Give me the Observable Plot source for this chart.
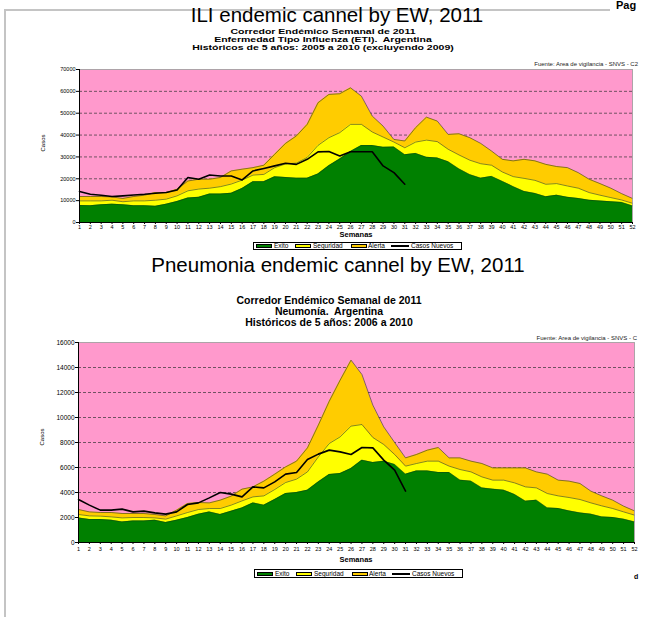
<!DOCTYPE html>
<html><head><meta charset="utf-8">
<script src="https://cdn.jsdelivr.net/npm/d3@7"></script>
<script src="https://cdn.jsdelivr.net/npm/@observablehq/plot@0.6"></script>
<style>
body{margin:0;background:#fff;}
#page{position:relative;width:647px;height:617px;overflow:hidden;font-family:"Liberation Sans",Arial,sans-serif;color:#000;background:#fff;}
.abs{position:absolute;white-space:nowrap;line-height:1;}
.ctr{transform:translate(-50%,-50%);}
.title{font-size:20.5px;}
.sub1{font-size:10.5px;font-weight:bold;transform:translate(-50%,-50%) scaleY(0.72);}
.sub2{font-size:10.5px;font-weight:bold;}
.fuente{font-size:6px;transform:translate(-100%,-50%);color:#222;}
.casos{font-size:6px;transform:translate(-50%,-50%) rotate(-90deg);}
.sem{font-size:7.5px;font-weight:bold;}
.legend{position:absolute;border:1px solid #000;background:#fff;box-sizing:border-box;}
.legend span{position:absolute;top:50%;transform:translateY(-50%);font-size:6.5px;white-space:nowrap;line-height:1;}
.legend i{position:absolute;top:50%;transform:translateY(-50%);height:4px;border:1px solid #000;box-sizing:border-box;}
.chart{position:absolute;left:0;}
</style></head><body><div id="page">
<div class="abs" style="left:4px;top:9px;width:2px;height:608px;background:#c4c4c4"></div>
<div class="abs" style="left:4px;top:9px;width:606px;height:2px;background:#c4c4c4"></div>
<div class="abs" style="left:616px;top:0px;font-size:11px;font-weight:bold;">Pag</div>

<div class="abs ctr title" style="left:337px;top:15px;">ILI endemic cannel by EW, 2011</div>
<div class="abs sub1" style="left:323px;top:30.5px;">Corredor Endémico Semanal de 2011</div>
<div class="abs sub1" style="left:323px;top:38.5px;">Enfermedad Tipo Influenza (ETI).&nbsp; Argentina</div>
<div class="abs sub1" style="left:323px;top:46.5px;">Históricos de 5 años: 2005 a 2010 (excluyendo 2009)</div>
<div class="abs fuente" style="left:638px;top:64px;">Fuente: Area de vigilancia - SNVS - C2</div>
<div class="abs casos" style="left:43px;top:143px;">Casos</div>
<div id="c1" class="chart" style="top:66px;"></div>
<div class="abs ctr sem" style="left:356px;top:235px;">Semanas</div>
<div id="lg1"></div>

<div class="abs ctr title" style="left:338px;top:265px;">Pneumonia endemic cannel by EW, 2011</div>
<div class="abs ctr sub2" style="left:329px;top:300px;">Corredor Endémico Semanal de 2011</div>
<div class="abs ctr sub2" style="left:329px;top:311px;">Neumonía.&nbsp; Argentina</div>
<div class="abs ctr sub2" style="left:329px;top:322px;">Históricos de 5 años: 2006 a 2010</div>
<div class="abs fuente" style="left:637px;top:338px;">Fuente: Area de vigilancia - SNVS - C</div>
<div class="abs casos" style="left:42px;top:437px;">Casos</div>
<div id="c2" class="chart" style="top:338px;"></div>
<div class="abs ctr sem" style="left:356px;top:560px;">Semanas</div>
<div id="lg2"></div>
<div class="abs" style="left:634px;top:573px;font-size:7px;font-weight:bold;">d</div>
</div>
<script>
// ---------- data ----------
const weeks = [1,2,3,4,5,6,7,8,9,10,11,12,13,14,15,16,17,18,19,20,21,22,23,24,25,26,
  27,28,29,30,31,32,33,34,35,36,37,38,39,40,41,42,43,44,45,46,47,48,49,50,51,52];
const legendLabels = ["Exito","Seguridad","Alerta","Casos Nuevos"];

// ILI (ETI) 2011
const iliExito = [7800,7700,8100,8400,8100,7700,7700,7400,8400,9600,11200,11500,13000,13000,13400,15600,
  18700,18700,20900,20600,20300,20300,22200,26000,29000,32500,35200,35200,34400,34500,31000,31600,29800,
  29500,27800,24500,21900,20300,21100,18800,16400,14200,13300,11800,12500,11500,11000,10200,9800,9500,9200,7600];
const iliSeguridad = [9900,9900,9900,10200,9500,9900,9900,10200,10700,12200,14500,15300,15700,16400,17600,
  19400,21700,22000,25100,26800,27200,29800,35300,38800,41100,44900,44900,41400,39100,36800,34200,36800,
  37700,37000,33500,30900,28500,26900,26200,23100,21000,20200,19300,17500,17800,16700,15700,13700,12500,
  11400,10300,8800];
const iliAlerta = [11900,11900,11900,11700,11000,11900,12500,13700,13700,15200,19000,19800,19800,20600,23600,
  24400,25100,26200,31200,36200,39600,44900,54800,58600,58900,61600,57800,48700,44100,38000,37300,43400,
  48200,46400,40300,40600,38800,36200,32700,28900,28200,28900,28200,26600,25600,25100,22800,19800,17800,
  15700,13200,11000];
const iliCasos = [14200,12900,12500,11900,12200,12600,12900,13400,13700,14900,20600,19800,21700,21300,21300,
  19500,23600,24700,25900,27100,26600,28900,32300,32500,30400,32400,32400,32400,25900,22800,17500];
const iliTicks = [0,10000,20000,30000,40000,50000,60000,70000];
const iliGrid = [10000,20000,30000,40000,50000,60000];

// Neumonía 2011
const neuExito = [1970,1840,1840,1790,1650,1730,1730,1790,1600,1790,2000,2270,2450,2240,2500,2770,3170,2990,
  3440,3920,4000,4190,4850,5440,5520,5920,6590,6400,6510,6240,5470,5730,5730,5600,5600,4990,4910,4370,4270,
  4190,3840,3310,3390,2770,2720,2530,2370,2270,2050,2000,1870,1650];
const neuSeguridad = [2240,2130,2110,2050,1970,2000,2000,1970,1870,2130,2400,2640,2720,2720,2990,3330,3650,
  3730,4240,4800,5070,5650,6850,7920,8450,9310,9440,8400,7840,7040,6110,6320,6510,6510,6110,5840,5650,5250,
  4990,4990,4770,4450,4370,3920,3730,3600,3440,3170,2930,2720,2450,2190];
const neuAlerta = [2640,2450,2400,2400,2320,2320,2320,2240,2130,2590,3120,3200,3170,3390,3710,4270,4450,4910,
  5470,6050,6510,7570,9390,11300,12990,14590,13440,10990,9250,8000,6770,7040,7390,7600,6770,6770,6510,6320,
  5970,5970,5970,5970,5650,5470,4990,4910,4720,4110,3730,3390,2910,2530];
const neuCasos = [3440,2990,2590,2590,2670,2450,2510,2370,2270,2450,3040,3170,3570,4000,3870,3650,4450,4370,
  4850,5470,5600,6640,7070,7390,7250,7040,7600,7570,6590,5790,4110];
const neuTicks = [0,2000,4000,6000,8000,10000,12000,14000,16000];
const neuGrid = [2000,4000,6000,8000,10000,12000,14000];

const colors = {pink:"#ff99cc", exito:"#008000", seg:"#ffff00", alerta:"#ffcc00"};

function chart(o) {
  const rows = weeks.map((w, i) => ({week: w, exito: o.exito[i], seg: o.seg[i], alerta: o.alerta[i]}));
  const cas = o.casos.map((c, i) => ({week: weeks[i], casos: c}));
  return Plot.plot({
    width: 647, height: o.height,
    marginTop: o.mt, marginBottom: o.mb, marginLeft: o.ml, marginRight: o.mr,
    style: {fontFamily: "Liberation Sans, Arial, sans-serif", background: "transparent", overflow: "visible", color: "#000"},
    x: {domain: [1, 52], label: null, axis: null},
    y: {domain: [0, o.yMax], label: null, axis: null},
    marks: [
      Plot.frame({fill: colors.pink, stroke: null}),
      Plot.ruleY(o.grid, {stroke: "#333", strokeDasharray: "3,2", strokeWidth: 0.7}),
      Plot.areaY(rows, {x: "week", y: "alerta", fill: colors.alerta}),
      Plot.areaY(rows, {x: "week", y: "seg", fill: colors.seg}),
      Plot.areaY(rows, {x: "week", y: "exito", fill: colors.exito}),
      Plot.lineY(rows, {x: "week", y: "alerta", stroke: "#333", strokeWidth: 0.6}),
      Plot.lineY(rows, {x: "week", y: "seg", stroke: "#333", strokeWidth: 0.6}),
      Plot.lineY(rows, {x: "week", y: "exito", stroke: "#153d15", strokeWidth: 0.5}),
      Plot.lineY(cas, {x: "week", y: "casos", stroke: "#000", strokeWidth: 1.6}),
      Plot.frame({stroke: "#999", strokeWidth: 0.8}),
      Plot.axisX({ticks: weeks, tickSize: 2, tickPadding: o.xpad, fontSize: 5.5, tickFormat: d => String(d), label: null}),
      Plot.axisY({ticks: o.ticks, tickSize: 3, tickPadding: 1, fontSize: o.yfs, tickFormat: d => String(d), label: null}),
      Plot.ruleX([1], {stroke: "#000", strokeWidth: 1}),
      Plot.ruleY([0], {stroke: "#000", strokeWidth: 1})
    ]
  });
}

document.getElementById("c1").append(chart({
  exito: iliExito, seg: iliSeguridad, alerta: iliAlerta, casos: iliCasos,
  yMax: 70000, ticks: iliTicks, grid: iliGrid,
  height: 170, mt: 3, mb: 14, ml: 79, mr: 15, xpad: 1, yfs: 5.5
}));
document.getElementById("c2").append(chart({
  exito: neuExito, seg: neuSeguridad, alerta: neuAlerta, casos: neuCasos,
  yMax: 16000, ticks: neuTicks, grid: neuGrid,
  height: 218, mt: 4, mb: 14, ml: 78, mr: 13, xpad: 3, yfs: 6.5
}));

function legend(id, left, top, height) {
  const box = document.createElement("div");
  box.className = "legend";
  Object.assign(box.style, {left: left + "px", top: top + "px", width: "209px", height: height + "px"});
  const sw = [[2, colors.exito], [41, colors.seg], [97, colors.alerta]];
  sw.forEach(([x, c]) => {
    const i = document.createElement("i");
    Object.assign(i.style, {left: x + "px", width: "16px", background: c});
    box.append(i);
  });
  const ln = document.createElement("b");
  Object.assign(ln.style, {position: "absolute", left: "137px", top: "50%", width: "18px", height: "2px", marginTop: "-1px", background: "#000"});
  box.append(ln);
  [[20, 0], [59, 1], [114, 2], [157, 3]].forEach(([x, k]) => {
    const s = document.createElement("span");
    s.style.left = x + "px";
    s.textContent = legendLabels[k];
    box.append(s);
  });
  document.getElementById(id).append(box);
}
legend("lg1", 253, 242, 8);
legend("lg2", 254, 569, 9);
</script>
</body></html>
